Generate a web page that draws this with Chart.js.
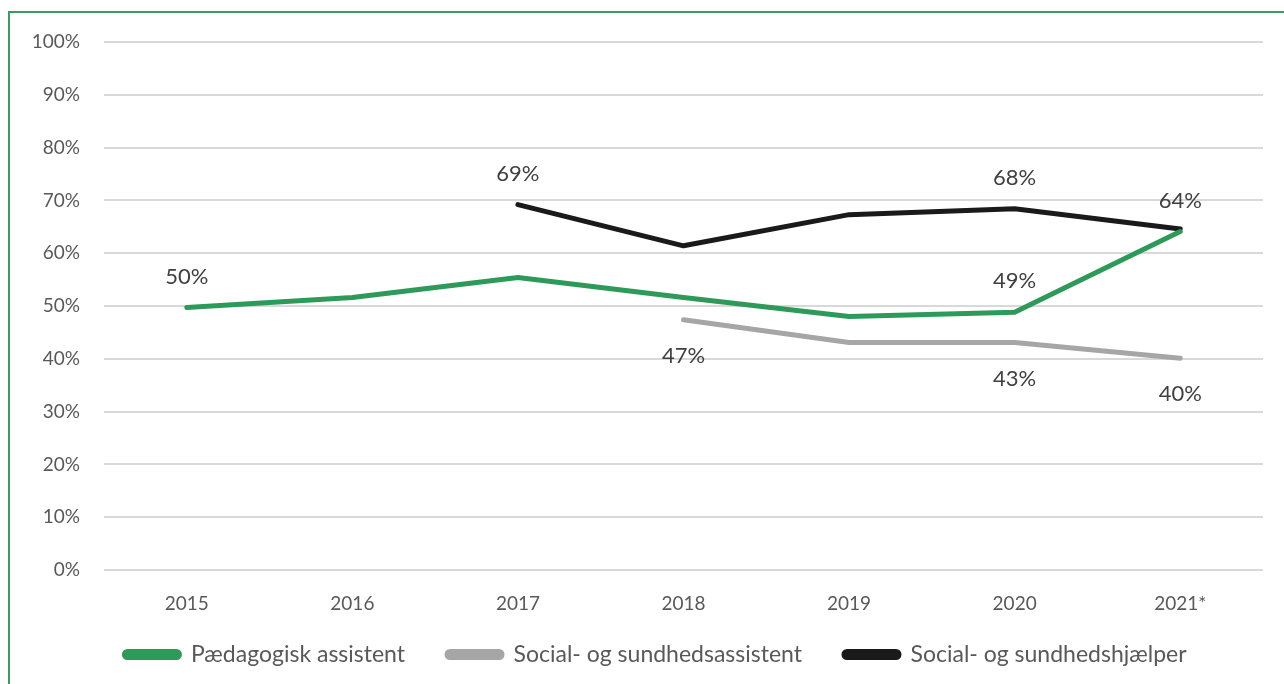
<!DOCTYPE html>
<html>
<head>
<meta charset="utf-8">
<script src="https://cdn.jsdelivr.net/npm/chart.js@4.4.1/dist/chart.umd.min.js"></script>
<style>
    html, body { margin: 0; padding: 0; background: #fff; overflow: hidden; }
    #wrap { position: relative; width: 1284px; height: 684px; }
    #frame { position: absolute; left: 8px; top: 11px; width: 1400px; height: 800px; border: 2px solid #3b9a5e; }
    #myChartId { position: absolute; left: 0; top: 0; }
</style>
</head>
<body>
<div id="wrap">
    <div id="frame"></div>
    <canvas id="myChartId" width="1284" height="684"></canvas>
</div>
<script>
const years = ['2015', '2016', '2017', '2018', '2019', '2020', '2021*'];
const yTicks = [0, 10, 20, 30, 40, 50, 60, 70, 80, 90, 100];

const paedagogiskValues = [49.7, 51.6, 55.4, 51.6, 48.0, 48.8, 64.1];
const sosuAssistentValues = [null, null, null, 47.4, 43.1, 43.1, 40.1];
const sosuHjaelperValues = [null, null, 69.2, 61.4, 67.3, 68.4, 64.6];

// which points get a value label, and where
const paedagogiskLabels = ['above', null, null, null, null, 'above', 'above'];
const sosuAssistentLabels = [null, null, null, 'below', null, 'below', 'below'];
const sosuHjaelperLabels = [null, null, 'above', null, null, 'above', null];

const valueLabels = {
    id: 'valueLabels',
    afterDatasetsDraw(chart) {
        const c = chart.ctx;
        c.save();
        c.font = '22px Lato';
        c.fillStyle = '#404040';
        c.textAlign = 'center';
        c.textBaseline = 'middle';
        chart.data.datasets.forEach(function (ds, i) {
            const meta = chart.getDatasetMeta(i);
            ds.pointLabels.forEach(function (pos, j) {
                if (!pos || ds.data[j] == null) return;
                const pt = meta.data[j];
                const dy = pos === 'above' ? -31 : 36;
                c.fillText(Math.round(ds.data[j]) + '%', pt.x, pt.y + dy);
            });
        });
        c.restore();
    }
};

// nudge the legend a bit up and right, like in the original
const legendShift = {
    id: 'legendShift',
    afterLayout(chart) {
        const lg = chart.legend;
        lg.top -= 25;
        lg.left += 24; lg.right += 24;
    }
};

Chart.defaults.font.family = 'Lato';
Chart.defaults.color = '#595959';

const ctx = document.getElementById('myChartId');

new Chart(ctx, {
    type: 'line',
    data: {
        labels: years,
        datasets: [{
            label: 'Pædagogisk assistent',
            data: paedagogiskValues,
            pointLabels: paedagogiskLabels,
            borderColor: '#2e9a5a',
            backgroundColor: '#2e9a5a',
            borderWidth: 5,
        }, {
            label: 'Social- og sundhedsassistent',
            data: sosuAssistentValues,
            pointLabels: sosuAssistentLabels,
            borderColor: '#a6a6a6',
            backgroundColor: '#a6a6a6',
            borderWidth: 5,
        }, {
            label: 'Social- og sundhedshjælper',
            data: sosuHjaelperValues,
            pointLabels: sosuHjaelperLabels,
            borderColor: '#1a1a1a',
            backgroundColor: '#1a1a1a',
            borderWidth: 5,
        }]
    },
    options: {
        responsive: false,
        animation: false,
        elements: {
            point: { radius: 0, hoverRadius: 0 },
            line: { tension: 0, borderCapStyle: 'round', borderJoinStyle: 'round' }
        },
        layout: {
            padding: { left: 0, right: 21, top: 42, bottom: 0 }
        },
        scales: {
            x: {
                offset: true,
                afterFit: function (axis) { axis.height = 56; },
                grid: { display: false },
                border: { display: false },
                ticks: {
                    padding: 14,
                    color: '#595959',
                    font: { size: 19 }
                }
            },
            y: {
                min: 0,
                max: 100,
                afterFit: function (axis) { axis.width = 104; },
                afterBuildTicks: function (axis) {
                    axis.ticks = yTicks.map(function (v) { return { value: v }; });
                },
                grid: { color: '#d9d9d9', lineWidth: 2, drawTicks: false },
                border: { display: false },
                ticks: {
                    padding: 24,
                    color: '#595959',
                    font: { size: 19 },
                    callback: function (v) { return v + '%'; }
                }
            }
        },
        plugins: {
            legend: {
                position: 'bottom',
                maxHeight: 58,
                labels: {
                    boxWidth: 55,
                    boxHeight: 6,
                    useBorderRadius: true,
                    borderRadius: 3,
                    padding: 42,
                    color: '#595959',
                    font: { size: 23 }
                }
            },
            tooltip: { enabled: false }
        }
    },
    plugins: [valueLabels, legendShift]
});
</script>
</body>
</html>
